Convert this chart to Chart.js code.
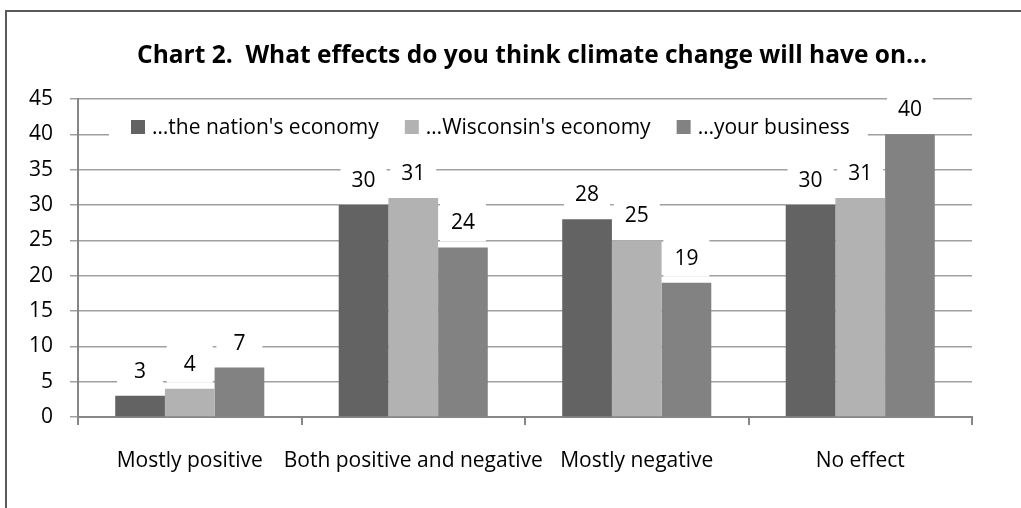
<!DOCTYPE html>
<html>
<head>
<meta charset="utf-8">
<script src="https://cdn.jsdelivr.net/npm/chart.js@4.4.1/dist/chart.umd.min.js"></script>
<style>
  html, body { margin: 0; padding: 0; background: #fff; overflow: hidden; }
  #wrap { position: relative; width: 1021px; height: 508px; }
  #frame { position: absolute; left: 5px; top: 10px; width: 1100px; height: 600px; border: 2px solid #5a5a5a; box-sizing: border-box; }
  canvas { position: absolute; left: 0; top: 0; }
</style>
</head>
<body>
<div id="wrap">
  <div id="frame"></div>
  <canvas id="chart" width="1021" height="508"></canvas>
</div>
<script>
const categories = ['Mostly positive', 'Both positive and negative', 'Mostly negative', 'No effect'];
const seriesNames = ['\u2026the nation\'s economy', '\u2026Wisconsin\'s economy', '\u2026your business'];
const nationValues = [3, 30, 28, 30];
const wisconsinValues = [4, 31, 25, 31];
const businessValues = [7, 24, 19, 40];
const yTicks = [0, 5, 10, 15, 20, 25, 30, 35, 40, 45];
const titleText = 'Chart 2.  What effects do you think climate change will have on...';

const barColors = ['#636363', '#b2b2b2', '#828282'];
const fontFamily = '"Open Sans", "Noto Sans", sans-serif';
const textSize = 21;

// title, in-plot legend and boxed value labels
const decorPlugin = {
  id: 'decor',
  afterDatasetsDraw(chart) {
    const ctx = chart.ctx;
    const area = chart.chartArea;
    ctx.save();

    // title
    ctx.font = 'bold 24.5px ' + fontFamily;
    ctx.fillStyle = '#000';
    ctx.textAlign = 'center';
    ctx.textBaseline = 'middle';
    ctx.fillText(titleText, 532, 56);

    // legend
    ctx.font = textSize + 'px ' + fontFamily;
    const ly = 127;
    let lx = area.left + 53;
    const widths = seriesNames.map(n => ctx.measureText(n).width);
    const total = widths.reduce((a, b) => a + b, 0) + seriesNames.length * 21 + (seriesNames.length - 1) * 26;
    ctx.fillStyle = '#fff';
    ctx.fillRect(lx - 22, ly - 17, total + 40, 34);
    ctx.textAlign = 'left';
    seriesNames.forEach((name, i) => {
      ctx.fillStyle = barColors[i];
      ctx.fillRect(lx, ly - 7, 14, 14);
      ctx.fillStyle = '#000';
      ctx.fillText(name, lx + 21, ly + 1);
      lx += 21 + widths[i] + 26;
    });

    // value labels
    ctx.textAlign = 'center';
    chart.data.datasets.forEach((ds, i) => {
      const meta = chart.getDatasetMeta(i);
      meta.data.forEach((bar, j) => {
        const cy = bar.y - 25;
        ctx.fillStyle = '#fff';
        ctx.fillRect(bar.x - 23, cy - 19, 46, 38);
        ctx.fillStyle = '#000';
        ctx.fillText(String(ds.data[j]), bar.x, cy + 1);
      });
    });
    ctx.restore();
  }
};

new Chart(document.getElementById('chart'), {
  type: 'bar',
  data: {
    labels: categories,
    datasets: [
      { label: seriesNames[0], data: nationValues, backgroundColor: barColors[0] },
      { label: seriesNames[1], data: wisconsinValues, backgroundColor: barColors[1] },
      { label: seriesNames[2], data: businessValues, backgroundColor: barColors[2] }
    ]
  },
  options: {
    responsive: false,
    animation: false,
    devicePixelRatio: 1,
    layout: { padding: { left: 0, top: 99, right: 49, bottom: 0 } },
    datasets: { bar: { categoryPercentage: 0.667, barPercentage: 1 } },
    plugins: {
      legend: { display: false },
      title: { display: false },
      tooltip: { enabled: false }
    },
    scales: {
      x: {
        afterFit(s) { s.height = 91; },
        grid: { offset: true, drawOnChartArea: false, drawTicks: true, tickLength: 8, color: '#868686', lineWidth: 2 },
        border: { color: '#868686', width: 2 },
        ticks: { color: '#000', padding: 23, font: { family: fontFamily, size: textSize }, maxRotation: 0, autoSkip: false }
      },
      y: {
        min: 0,
        max: 45,
        afterFit(s) { s.width = 78; },
        afterBuildTicks(s) { s.ticks = yTicks.map(v => ({ value: v })); },
        grid: { color: '#a0a0a0', lineWidth: 1.5, tickLength: 8 },
        border: { color: '#868686', width: 2 },
        ticks: { color: '#000', padding: 17, font: { family: fontFamily, size: textSize } }
      }
    }
  },
  plugins: [decorPlugin]
});
</script>
</body>
</html>
